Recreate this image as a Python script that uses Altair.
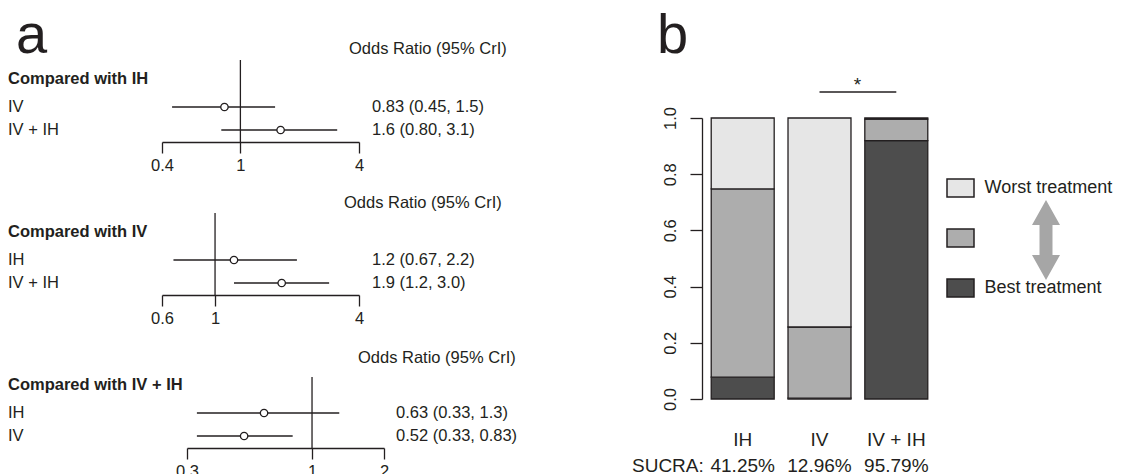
import altair as alt
import pandas as pd

FONT = "Liberation Sans"
INK = "#231f20"

# ---------- panel a data ----------
titles = ["Compared with IH", "Compared with IV", "Compared with IV + IH"]

rows_1 = ["IV", "IV + IH"]
est_1 = [0.83, 1.6]
lo_1 = [0.45, 0.80]
hi_1 = [1.5, 3.1]
lab_1 = ["0.83 (0.45, 1.5)", "1.6 (0.80, 3.1)"]
ticks_1 = [0.4, 1, 4]

rows_2 = ["IH", "IV + IH"]
est_2 = [1.2, 1.9]
lo_2 = [0.67, 1.2]
hi_2 = [2.2, 3.0]
lab_2 = ["1.2 (0.67, 2.2)", "1.9 (1.2, 3.0)"]
ticks_2 = [0.6, 1, 4]

rows_3 = ["IH", "IV"]
est_3 = [0.63, 0.52]
lo_3 = [0.33, 0.33]
hi_3 = [1.3, 0.83]
lab_3 = ["0.63 (0.33, 1.3)", "0.52 (0.33, 0.83)"]
ticks_3 = [0.3, 1, 2]

# ---------- panel b data ----------
treatments = ["IH", "IV", "IV + IH"]
p_best = [0.0775, 0.003, 0.9195]
p_middle = [0.67, 0.2532, 0.0768]
p_worst = [0.2525, 0.7438, 0.0037]
sucra = ["41.25%", "12.96%", "95.79%"]
rank_names = ["Worst", "Middle", "Best"]
rank_colors = ["#e6e6e6", "#adadad", "#4d4d4d"]

W_A, H_A = 560, 134
LETTER_SIZE = 56
LETTER_Y = 45


def forest(title, rows, est, lo, hi, labels, ticks, x_range, est_x, hdr_x, hdr_y, line_top, letter=None):
    df = pd.DataFrame({"row": rows, "est": est, "lo": lo, "hi": hi, "label": labels})
    xs = alt.Scale(type="log", domain=[ticks[0], ticks[-1]], range=x_range, nice=False)
    ys = alt.Scale(type="point", domain=rows, range=[99, 122], padding=0)
    ax = alt.Axis(values=ticks, format="~g", title=None, grid=False, domain=True,
                  domainColor=INK, domainWidth=1.3, ticks=True, tickColor=INK,
                  tickWidth=1.3, tickSize=11, labelFontSize=16.5, labelPadding=4,
                  labelColor=INK, labelFont=FONT, labelFlush=False, labelOverlap=False)
    base = alt.Chart(df)
    ref = alt.Chart(pd.DataFrame({"v": [1.0]})).mark_rule(color=INK, strokeWidth=1.3).encode(
        x=alt.X("v:Q", scale=xs, axis=ax), y=alt.value(line_top), y2=alt.value(H_A))
    ci = base.mark_rule(color=INK, strokeWidth=1.3).encode(
        x=alt.X("lo:Q", scale=xs, axis=ax), x2="hi:Q",
        y=alt.Y("row:N", scale=ys, axis=None))
    pts = base.mark_point(shape="circle", size=55, filled=True, fill="white", stroke=INK,
                          strokeWidth=1.3, opacity=1).encode(
        x=alt.X("est:Q", scale=xs, axis=ax), y=alt.Y("row:N", scale=ys, axis=None))
    rowlab = base.mark_text(align="left", baseline="middle", fontSize=16.5, font=FONT, color=INK).encode(
        x=alt.value(0), y=alt.Y("row:N", scale=ys, axis=None), text="row:N")
    estlab = base.mark_text(align="left", baseline="middle", fontSize=16.5, font=FONT, color=INK).encode(
        x=alt.value(est_x), y=alt.Y("row:N", scale=ys, axis=None), text="label:N")
    head = alt.Chart(pd.DataFrame({"t": [title]})).mark_text(
        align="left", baseline="middle", fontSize=16.5, fontWeight="bold", font=FONT, color=INK).encode(
        x=alt.value(0), y=alt.value(71), text="t:N")
    hdr = alt.Chart(pd.DataFrame({"t": ["Odds Ratio (95% CrI)"]})).mark_text(
        align="left", baseline="middle", fontSize=16.5, font=FONT, color=INK).encode(
        x=alt.value(hdr_x), y=alt.value(hdr_y), text="t:N")
    layers = [ref, ci, pts, rowlab, estlab, head, hdr]
    if letter:
        lt = alt.Chart(pd.DataFrame({"t": [letter]})).mark_text(
            align="left", baseline="alphabetic", fontSize=LETTER_SIZE, font=FONT, color=INK).encode(
            x=alt.value(8), y=alt.value(LETTER_Y), text="t:N")
        layers.append(lt)
    return alt.layer(*layers).properties(width=W_A, height=H_A)


f1 = forest(titles[0], rows_1, est_1, lo_1, hi_1, lab_1, ticks_1, [154, 351], 364, 341, 41, 52, letter="a")
f2 = forest(titles[1], rows_2, est_2, lo_2, hi_2, lab_2, ticks_2, [154, 351], 364, 336, 42, 52)
f3 = forest(titles[2], rows_3, est_3, lo_3, hi_3, lab_3, ticks_3, [179, 376], 388, 350, 44, 63)

panel_a = alt.vconcat(f1, f2, f3, spacing=19, bounds="flush")

# ---------- panel b ----------
recs = []
for i, t in enumerate(treatments):
    for k, (nm, p) in enumerate(zip(["Best", "Middle", "Worst"], [p_best[i], p_middle[i], p_worst[i]])):
        recs.append({"treatment": t, "rank": nm, "k": k, "p": p})
dfb = pd.DataFrame(recs)

xb = alt.Scale(domain=treatments, range=[0, 235], paddingInner=0.18, paddingOuter=0.12)
xb_axis = alt.Axis(title=None, domain=False, ticks=False, tickSize=0, labelAngle=0, labelFontSize=19,
                   labelPadding=31, labelColor=INK, labelFont=FONT)
yb = alt.Scale(domain=[0, 1], range=[391, 110], nice=False, zero=True)
yb_axis = alt.Axis(values=[0, 0.2, 0.4, 0.6, 0.8, 1.0], format=".1f", title=None, grid=False,
                   labelAngle=270, labelAlign="center", labelBaseline="alphabetic",
                   tickSize=12, tickColor=INK, tickWidth=1.3, domainColor=INK, domainWidth=1.3,
                   labelPadding=15, labelFontSize=16.5, labelColor=INK, labelFont=FONT)

legend = alt.Legend(orient="none", legendX=942.5, legendY=170, title=None,
                    symbolType="M-1.5,-1H1.5V1H-1.5Z", symbolSize=324,
                    symbolStrokeColor=INK, symbolStrokeWidth=1.5, symbolOpacity=1,
                    labelFontSize=18, labelFont=FONT, labelColor=INK, labelOffset=14,
                    rowPadding=26, padding=0,
                    labelExpr="datum.label == 'Middle' ? '' : datum.label + ' treatment'")

bars = alt.Chart(dfb).mark_bar(stroke=INK, strokeWidth=1.3).encode(
    x=alt.X("treatment:N", scale=xb, axis=xb_axis, sort=treatments),
    y=alt.Y("p:Q", stack="zero", scale=yb, axis=yb_axis),
    fill=alt.Fill("rank:N", scale=alt.Scale(domain=rank_names, range=rank_colors), legend=legend),
    order=alt.Order("k:Q", sort="ascending"),
)

sig = alt.Chart(pd.DataFrame({"a": ["IV"], "b": ["IV + IH"]})).mark_rule(color=INK, strokeWidth=1.3).encode(
    x=alt.X("a:N", scale=xb, axis=xb_axis, bandPosition=0.5), x2=alt.X2("b:N"), y=alt.value(84))
star = alt.Chart(pd.DataFrame({"t": ["*"]})).mark_text(
    align="center", baseline="alphabetic", fontSize=19, font=FONT, color=INK).encode(
    x=alt.value(155.5), y=alt.value(83), text="t:N")

sucra_df = pd.DataFrame({"treatment": treatments, "s": sucra})
sucra_txt = alt.Chart(sucra_df).mark_text(
    align="center", baseline="middle", fontSize=19, font=FONT, color=INK).encode(
    x=alt.X("treatment:N", scale=xb, axis=xb_axis), y=alt.value(458), text="s:N")
sucra_lab = alt.Chart(pd.DataFrame({"t": ["SUCRA:"]})).mark_text(
    align="left", baseline="middle", fontSize=19, font=FONT, color=INK).encode(
    x=alt.value(-70), y=alt.value(458), text="t:N")

arrow_path = ("M0,-2.857L1,-1.071L0.464,-1.071L0.464,1.071L1,1.071L0,2.857"
              "L-1,1.071L-0.464,1.071L-0.464,-1.071L-1,-1.071Z")
arrow = alt.Chart(pd.DataFrame({"a": [0]})).mark_point(
    shape=arrow_path, size=784, filled=True, fill="#a6a6a6", strokeWidth=0, opacity=1).encode(
    x=alt.value(344), y=alt.value(232))

blab = alt.Chart(pd.DataFrame({"t": ["b"]})).mark_text(
    align="left", baseline="alphabetic", fontSize=LETTER_SIZE, font=FONT, color=INK).encode(
    x=alt.value(-45), y=alt.value(LETTER_Y), text="t:N")

panel_b = alt.layer(bars, sig, star, sucra_txt, sucra_lab, arrow, blab).properties(width=300, height=391)

chart = alt.hconcat(panel_a, panel_b, spacing=64).properties(padding=0).configure(
    font=FONT, view=alt.ViewConfig(stroke=None))

chart.save("out.html", embed_options={"renderer": "svg", "actions": False})
